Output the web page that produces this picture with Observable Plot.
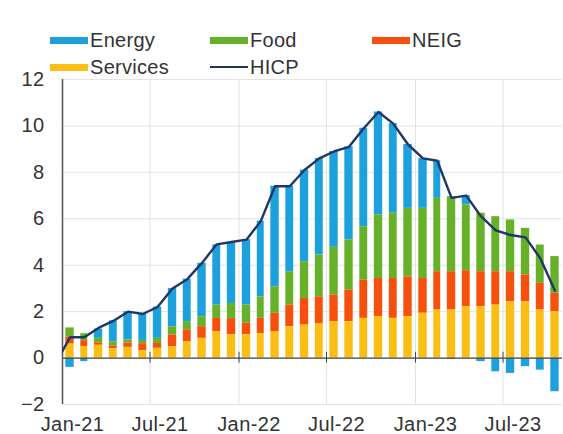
<!DOCTYPE html>
<html><head><meta charset="utf-8">
<script src="https://cdn.jsdelivr.net/npm/d3@7"></script>
<script src="https://cdn.jsdelivr.net/npm/@observablehq/plot@0.6"></script>
<style>
body{margin:0;background:#fff;font-family:"Liberation Sans",Arial,sans-serif;}
#legend{position:relative;height:56px;width:563px;z-index:2;}
.item{position:absolute;display:flex;align-items:center;font-size:20px;color:#333;line-height:20px;height:20px;letter-spacing:0.3px;}
.sw{width:38px;margin-right:2px;}
#chart{position:relative;z-index:1;}
#chart svg text{letter-spacing:0.4px;}
</style></head><body>
<div id="legend"></div>
<div id="chart"></div>
<script>
// Series (contributions, percentage points), monthly Jan-21 .. Oct-23
const seriesNames = ["Energy", "Food", "NEIG", "Services"];
const seriesColors = ["#1ea0dc", "#67b12a", "#f6500f", "#fbbe14"];
const stackOrder = ["Services", "NEIG", "Food", "Energy"];
const hicpName = "HICP";
const hicpColor = "#1f3766";

const services = [0.6,0.5,0.55,0.4,0.46,0.32,0.42,0.49,0.7,0.85,1.14,1.0,
                  1.0,1.06,1.14,1.35,1.42,1.49,1.57,1.57,1.71,1.78,1.71,1.78,
                  1.93,2.07,2.07,2.21,2.21,2.28,2.43,2.43,2.07,2.0];
const neig = [0.3,0.25,0.1,0.12,0.19,0.3,0.21,0.5,0.5,0.5,0.57,0.7,
              0.5,0.65,0.79,0.93,1.15,1.15,1.15,1.36,1.65,1.65,1.72,1.72,
              1.5,1.65,1.65,1.55,1.51,1.44,1.29,1.15,1.15,0.79];
const food = [0.4,0.3,0.2,0.18,0.13,0.14,0.22,0.36,0.37,0.43,0.57,0.65,
              0.78,0.93,1.14,1.44,1.58,1.8,2.05,2.16,2.3,2.73,2.81,2.95,
              3.02,3.16,3.23,2.84,2.52,2.37,2.23,2.01,1.65,1.58];
const energy = [-0.4,-0.15,0.4,0.9,1.22,1.17,1.35,1.65,1.83,2.3,2.6,2.6,
                2.82,3.26,4.33,3.68,3.95,4.16,4.13,4.01,4.24,4.44,3.86,2.75,
                2.15,1.62,-0.05,0.4,-0.15,-0.59,-0.66,-0.37,-0.52,-1.45];
// HICP headline, Dec-20 .. Oct-23
const hicp = [-0.3,
              0.9,0.9,1.3,1.6,2.0,1.9,2.2,3.0,3.4,4.1,4.9,5.0,
              5.1,5.9,7.4,7.4,8.1,8.6,8.9,9.1,9.9,10.6,10.1,9.2,
              8.6,8.5,6.9,7.0,6.1,5.5,5.3,5.2,4.3,2.9];
const yTicks = [-2,0,2,4,6,8,10,12];
const xTickLabels = ["Jan-21","Jul-21","Jan-22","Jul-22","Jan-23","Jul-23"];

const start = new Date(Date.UTC(2021, 0, 1));
const months = d3.utcMonth.range(start, d3.utcMonth.offset(start, services.length));
const end = d3.utcMonth.offset(start, services.length);
const parseLbl = d3.utcParse("%b-%y");
const xTicks = xTickLabels.map(parseLbl);

const bySeries = {Energy: energy, Food: food, NEIG: neig, Services: services};
const data = [];
months.forEach((m, i) => {
  for (const s of seriesNames) data.push({date: m, series: s, value: bySeries[s][i]});
});
const hicpData = hicp.map((v, i) => {
  const m = d3.utcMonth.offset(start, i - 1);
  const n = d3.utcMonth.offset(m, 1);
  return {date: new Date((+m + +n) / 2), value: v};
});

// Legend
const legendItems = [
  {name: "Energy", color: seriesColors[0], left: 50, top: 30, line: false},
  {name: "Food", color: seriesColors[1], left: 210, top: 30, line: false},
  {name: "NEIG", color: seriesColors[2], left: 372, top: 30, line: false},
  {name: "Services", color: seriesColors[3], left: 50, top: 57, line: false},
  {name: hicpName, color: hicpColor, left: 210, top: 57, line: true}
];
const leg = document.getElementById("legend");
for (const it of legendItems) {
  const d = document.createElement("div");
  d.className = "item";
  d.style.left = it.left + "px";
  d.style.top = it.top + "px";
  const sw = document.createElement("span");
  sw.className = "sw";
  sw.style.background = it.color;
  sw.style.height = it.line ? "2.5px" : "7px";
  d.appendChild(sw);
  d.appendChild(document.createTextNode(it.name));
  leg.appendChild(d);
}

const chart = Plot.plot({
  width: 563, height: 378,
  marginLeft: 62, marginRight: 1, marginTop: 23, marginBottom: 30,
  x: {type: "utc", domain: [start, end], label: null},
  y: {domain: [-2, 12], label: null},
  color: {domain: seriesNames, range: seriesColors},
  style: {fontFamily: "Liberation Sans, Arial, sans-serif", fontSize: "20px", color: "#333", background: "transparent"},
  marks: [
    Plot.gridY(yTicks, {stroke: "#e3e3e3", strokeOpacity: 1}),
    Plot.gridX(xTicks, {stroke: "#e3e3e3", strokeOpacity: 1}),
    Plot.rectY(data, {x: "date", y: "value", fill: "series", interval: "month", order: stackOrder, insetLeft: 3.3, insetRight: 3.3}),
    Plot.ruleY([0], {stroke: "#444", strokeWidth: 1.2}),
    Plot.ruleX(xTicks, {y1: () => -0.22, y2: () => 0.25, stroke: "#444"}),
    Plot.ruleX([start], {stroke: "#555", strokeWidth: 1.5}),
    Plot.lineY(hicpData, {x: "date", y: "value", stroke: hicpColor, strokeWidth: 2.4, clip: true}),
    Plot.axisY(yTicks, {tickSize: 0, tickPadding: 18, fontSize: 20, label: null}),
    Plot.axisX(xTicks, {tickSize: 0, tickPadding: 12, dx: 10, tickFormat: d3.utcFormat("%b-%y"), fontSize: 20, label: null})
  ]
});
document.getElementById("chart").appendChild(chart);
</script>
</body></html>
